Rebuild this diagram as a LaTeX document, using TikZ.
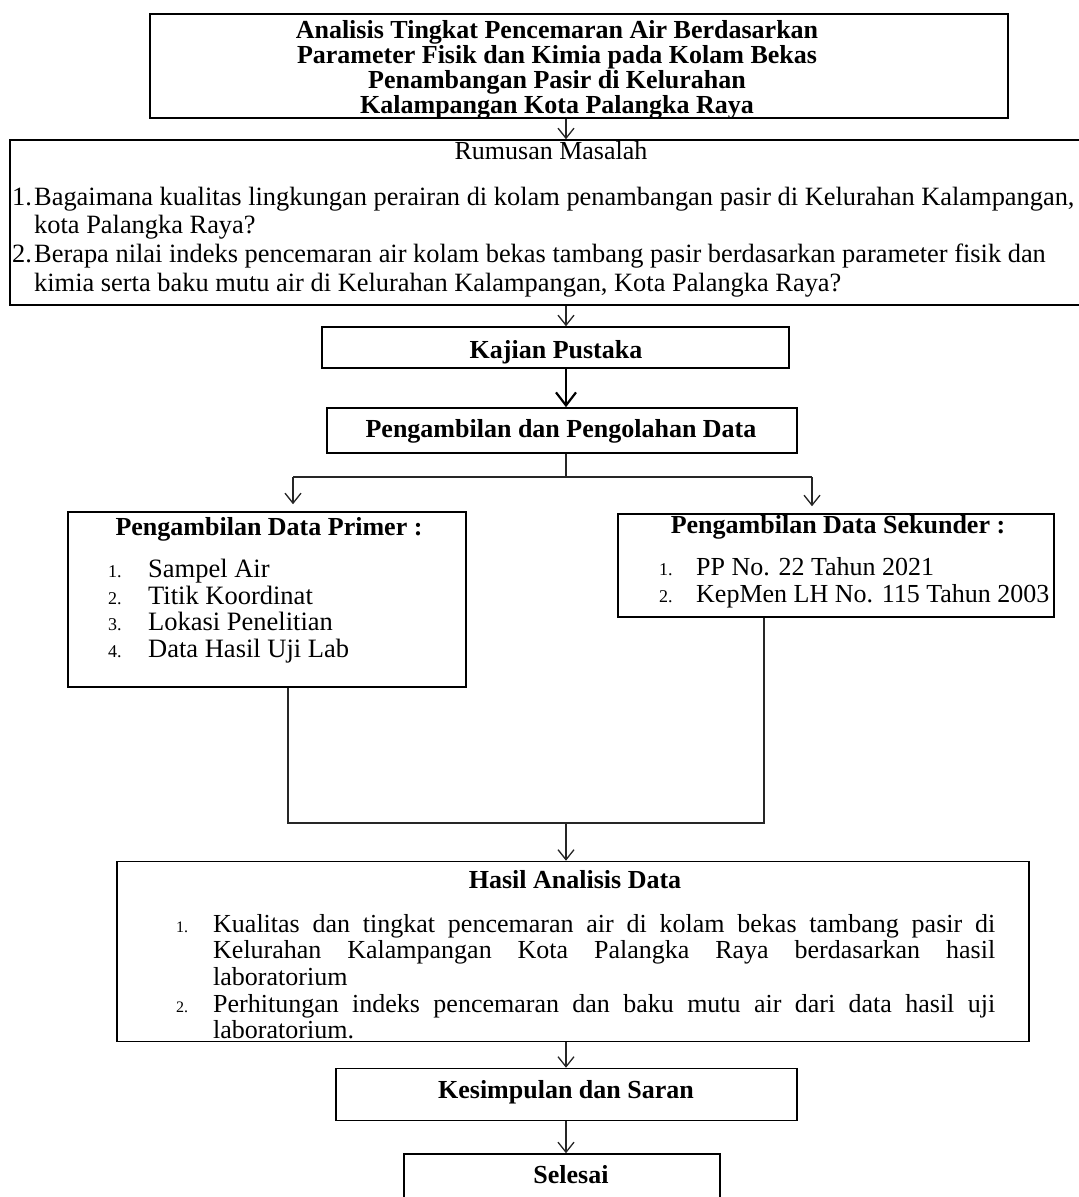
\documentclass[tikz,border=0pt]{standalone}
\usepackage{fontspec}
\setmainfont{Liberation Serif}
\usetikzlibrary{arrows.meta}
\begin{document}
\begin{tikzpicture}[x=1pt,y=-1pt,
  box/.style={draw=black, line width=1.6pt, inner sep=0pt},
  conn/.style={draw=black!85, line width=1.3pt},
  arr/.style={conn, -{Straight Barb[length=10pt,width=16pt,line width=1.3pt]}},
  bigarr/.style={draw=black, line width=2.2pt, -{Straight Barb[length=13pt,width=20pt,line width=2.2pt]}},
  bt/.style={font=\fontsize{26}{26}\selectfont\bfseries, inner sep=0pt},
  rt/.style={font=\fontsize{26}{26}\selectfont, inner sep=0pt},
  rq/.style={font=\fontsize{26.4}{26.4}\selectfont, inner sep=0pt},
  pt/.style={font=\fontsize{26.5}{26.5}\selectfont, inner sep=0pt},
  nt/.style={font=\fontsize{18}{18}\selectfont, inner sep=0pt},
  st/.style={font=\fontsize{16}{16}\selectfont, inner sep=0pt},
]
\fill[white] (0,0) rectangle (1079,1197);
\useasboundingbox (0,0) rectangle (1079,1197);

% boxes
\node[box, minimum width=858pt, minimum height=104pt] (title) at (579,66) {};
\node[box, minimum width=1080pt, minimum height=165pt] (rum) at (550,222.5) {};
\node[box, minimum width=467pt, minimum height=41pt] (kaj) at (555.5,347.5) {};
\node[box, minimum width=470pt, minimum height=45pt] (peng) at (562,430.5) {};
\node[box, minimum width=398pt, minimum height=175pt] (prim) at (267,599.5) {};
\node[box, minimum width=436pt, minimum height=103pt] (sek) at (836,565.5) {};
\node[box, minimum width=912pt, minimum height=180pt] (has) at (573,951.5) {};
\node[box, minimum width=461pt, minimum height=52pt] (kes) at (566.5,1094.5) {};
\node[box, minimum width=316pt, minimum height=70pt] (sel) at (562,1189) {};

% title text
\node[bt, anchor=base] (t1) at (557,38) {Analisis Tingkat Pencemaran Air Berdasarkan};
\node[bt, anchor=base] (t2) at (557,63) {Parameter Fisik dan Kimia pada Kolam Bekas};
\node[bt, anchor=base] (t3) at (557,88) {Penambangan Pasir di Kelurahan};
\node[bt, anchor=base] (t4) at (557,113) {Kalampangan Kota Palangka Raya};

% rumusan
\node[rt, anchor=base] (rmh) at (551,159) {Rumusan Masalah};
\node[rq, anchor=base west] (r1n) at (12,205) {1.};
\node[rq, anchor=base west] (r1a) at (34,205) {Bagaimana kualitas lingkungan perairan di kolam penambangan pasir di Kelurahan Kalampangan,};
\node[rq, anchor=base west] (r1b) at (34,233) {kota Palangka Raya?};
\node[rq, anchor=base west] (r2n) at (12,262) {2.};
\node[rq, anchor=base west] (r2a) at (34,262) {Berapa nilai indeks pencemaran air kolam bekas tambang pasir berdasarkan parameter fisik dan};
\node[rq, anchor=base west] (r2b) at (34,291) {kimia serta baku mutu air di Kelurahan Kalampangan, Kota Palangka Raya?};

% single-line boxes
\node[bt, anchor=base] (kajt) at (556,358) {Kajian Pustaka};
\node[bt, anchor=base] (pengt) at (561,437) {Pengambilan dan Pengolahan Data};

% primer
\node[bt, anchor=base] (primt) at (269,535) {Pengambilan Data Primer :};
\node[nt, anchor=base west] (p1n) at (108,577) {1.};
\node[pt, anchor=base west] (p1) at (148,577) {Sampel Air};
\node[nt, anchor=base west] (p2n) at (108,604) {2.};
\node[pt, anchor=base west] (p2) at (148,604) {Titik Koordinat};
\node[nt, anchor=base west] (p3n) at (108,630) {3.};
\node[pt, anchor=base west] (p3) at (148,630) {Lokasi Penelitian};
\node[nt, anchor=base west] (p4n) at (108,657) {4.};
\node[pt, anchor=base west] (p4) at (148,657) {Data Hasil Uji Lab};

% sekunder
\node[bt, anchor=base] (sekt) at (838,533) {Pengambilan Data Sekunder :};
\node[nt, anchor=base west] (s1n) at (659,575) {1.};
\node[rt, anchor=base west] (s1) at (696,575) {PP No. 22 Tahun 2021};
\node[nt, anchor=base west] (s2n) at (659,602) {2.};
\node[rt, anchor=base west] (s2) at (696,602) {KepMen LH No. 115 Tahun 2003};

% hasil
\node[bt, anchor=base] (hast) at (575,888) {Hasil Analisis Data};
\node[st, anchor=base west] (h1n) at (176,932) {1.};
\node[rt, anchor=base west] (h1a) at (213,932) {\makebox[782pt][s]{Kualitas dan tingkat pencemaran air di kolam bekas tambang pasir di}};
\node[rt, anchor=base west] (h1b) at (213,958) {\makebox[782pt][s]{Kelurahan Kalampangan Kota Palangka Raya berdasarkan hasil}};
\node[rt, anchor=base west] (h1c) at (213,985) {laboratorium};
\node[st, anchor=base west] (h2n) at (176,1012) {2.};
\node[rt, anchor=base west] (h2a) at (213,1012) {\makebox[782pt][s]{Perhitungan indeks pencemaran dan baku mutu air dari data hasil uji}};
\node[rt, anchor=base west] (h2b) at (213,1038) {laboratorium.};

\node[bt, anchor=base] (kest) at (566,1098) {Kesimpulan dan Saran};
\node[bt, anchor=base] (selt) at (571,1183) {Selesai};

% connectors
\coordinate (sp) at (566,0);
\draw[arr] (title.south -| sp) -- (rum.north -| sp);
\draw[arr] (rum.south -| sp) -- (kaj.north -| sp);
\draw[bigarr] (kaj.south -| sp) -- (peng.north -| sp);
\coordinate (split) at (566,477);
\coordinate (pa) at (293,477);
\coordinate (sa) at (812,477);
\draw[conn] (peng.south -| sp) -- (split);
\draw[conn] (pa) -- (sa);
\draw[arr, shorten >=7pt] (pa) -- (prim.north -| pa);
\draw[arr, shorten >=7pt] (sa) -- (sek.north -| sa);
\coordinate (m1) at (288,823);
\coordinate (m2) at (764,823);
\coordinate (merge) at (566,823);
\draw[conn] (prim.south -| m1) -- (m1) -- (m2) -- (sek.south -| m2);
\draw[arr] (merge) -- (has.north -| merge);
\draw[arr] (has.south -| sp) -- (kes.north -| sp);
\draw[arr] (kes.south -| sp) -- (sel.north -| sp);
\end{tikzpicture}
\end{document}
